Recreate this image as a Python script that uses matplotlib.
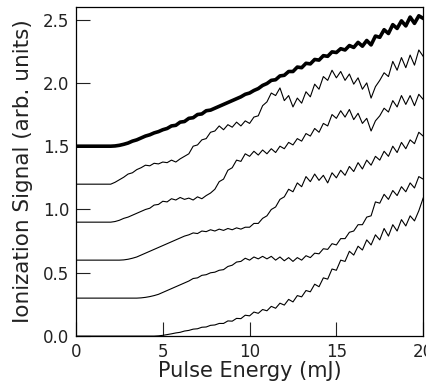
import numpy as np
import matplotlib
matplotlib.use("Agg")
import matplotlib.pyplot as plt

energy = [i * 0.25 for i in range(81)]

curve0 = [0.0] * 19 + [
    0.002, 0.006, 0.012, 0.018, 0.025, 0.03, 0.04, 0.045, 0.055, 0.058,
    0.07, 0.072, 0.085, 0.088, 0.10, 0.10, 0.12, 0.118, 0.14, 0.138,
    0.165, 0.16, 0.19, 0.18, 0.21, 0.20, 0.235, 0.22, 0.26, 0.245,
    0.29, 0.27, 0.32, 0.31, 0.36, 0.35, 0.41, 0.39, 0.46, 0.45,
    0.53, 0.52, 0.60, 0.59, 0.67, 0.64, 0.71, 0.68, 0.76, 0.72,
    0.80, 0.76, 0.85, 0.79, 0.88, 0.83, 0.92, 0.87, 0.95, 0.91,
    0.99, 1.09]

curve1 = [0.30] * 15 + [
    0.302, 0.306, 0.312, 0.32, 0.33, 0.345, 0.36, 0.375, 0.39, 0.405,
    0.42, 0.435, 0.455, 0.46, 0.48, 0.485, 0.50, 0.505, 0.52, 0.525,
    0.55, 0.56, 0.585, 0.59, 0.615, 0.60, 0.625, 0.61, 0.63, 0.61,
    0.63, 0.60, 0.625, 0.595, 0.62, 0.59, 0.62, 0.60, 0.635, 0.62,
    0.655, 0.65, 0.69, 0.685, 0.73, 0.72, 0.77, 0.77, 0.82, 0.83,
    0.88, 0.88, 0.94, 0.95, 1.06, 1.05, 1.12, 1.08, 1.15, 1.11,
    1.18, 1.14, 1.21, 1.17, 1.26, 1.24]

curve2 = [0.60] * 11 + [
    0.602, 0.607, 0.615, 0.625, 0.64, 0.655, 0.67, 0.685, 0.70, 0.715,
    0.73, 0.745, 0.76, 0.775, 0.79, 0.80, 0.815, 0.81, 0.83, 0.825,
    0.84, 0.83, 0.845, 0.835, 0.85, 0.84, 0.855, 0.845, 0.86, 0.86,
    0.89, 0.89, 0.93, 0.95, 1.00, 1.02, 1.08, 1.10, 1.16, 1.14,
    1.21, 1.18, 1.26, 1.22, 1.28, 1.23, 1.27, 1.21, 1.29, 1.25,
    1.31, 1.27, 1.34, 1.30, 1.37, 1.32, 1.39, 1.35, 1.42, 1.39,
    1.46, 1.42, 1.50, 1.45, 1.53, 1.48, 1.55, 1.52, 1.61, 1.58]

curve3 = [0.90] * 9 + [
    0.905, 0.915, 0.93, 0.94, 0.955, 0.97, 0.985, 1.00, 1.01, 1.035,
    1.04, 1.065, 1.06, 1.085, 1.075, 1.095, 1.08, 1.09, 1.075, 1.10,
    1.085, 1.11, 1.13, 1.16, 1.22, 1.24, 1.31, 1.33, 1.39, 1.38,
    1.44, 1.42, 1.46, 1.43, 1.47, 1.44, 1.48, 1.45, 1.50, 1.48,
    1.53, 1.51, 1.56, 1.54, 1.60, 1.58, 1.64, 1.61, 1.68, 1.66,
    1.75, 1.72, 1.78, 1.73, 1.79, 1.71, 1.76, 1.68, 1.72, 1.62,
    1.70, 1.74, 1.80, 1.77, 1.86, 1.81, 1.90, 1.83, 1.90, 1.82,
    1.91, 1.87]

curve4 = [1.20] * 9 + [
    1.215, 1.235, 1.255, 1.28, 1.29, 1.315, 1.33, 1.35, 1.345, 1.365,
    1.36, 1.375, 1.37, 1.39, 1.375, 1.40, 1.42, 1.44, 1.50, 1.51,
    1.55, 1.56, 1.61, 1.62, 1.66, 1.63, 1.67, 1.65, 1.69, 1.66,
    1.70, 1.68, 1.73, 1.74, 1.82, 1.85, 1.92, 1.90, 1.96, 1.86,
    1.90, 1.81, 1.88, 1.84, 1.93, 1.89, 1.99, 1.95, 2.05, 2.02,
    2.10, 2.04, 2.09, 2.02, 2.07, 1.99, 2.04, 1.95, 2.00, 1.88,
    1.97, 2.02, 2.08, 2.05, 2.17, 2.10, 2.20, 2.12, 2.22, 2.14,
    2.26, 2.21]

curve5 = [1.50] * 9 + [
    1.502, 1.507, 1.515, 1.525, 1.54, 1.55, 1.565, 1.58, 1.59, 1.605,
    1.615, 1.63, 1.64, 1.66, 1.665, 1.69, 1.695, 1.72, 1.725, 1.75,
    1.755, 1.78, 1.785, 1.80, 1.815, 1.83, 1.845, 1.86, 1.875, 1.89,
    1.91, 1.92, 1.94, 1.955, 1.98, 1.995, 2.02, 2.025, 2.055, 2.06,
    2.09, 2.09, 2.125, 2.12, 2.155, 2.15, 2.185, 2.18, 2.215, 2.21,
    2.245, 2.24, 2.27, 2.26, 2.295, 2.28, 2.32, 2.29, 2.335, 2.30,
    2.37, 2.36, 2.42, 2.39, 2.46, 2.43, 2.49, 2.45, 2.52, 2.47,
    2.53, 2.51]

thin_curves = [curve0, curve1, curve2, curve3, curve4]

x_ticks = [0, 5, 10, 15, 20]
y_ticks = [0.0, 0.5, 1.0, 1.5, 2.0, 2.5]
x_label = "Pulse Energy (mJ)"
y_label = "Ionization Signal (arb. units)"

plt.rcParams['font.family'] = ['DejaVu Sans']

fig = plt.figure(figsize=(4.27, 3.85), dpi=100)
ax = fig.add_axes([0.178, 0.127, 0.813, 0.855])

for c in thin_curves:
    ax.plot(energy, c, color='black', lw=0.8)
ax.plot(energy, curve5, color='black', lw=2.6)

ax.set_xlim(0, 20)
ax.set_ylim(0, 2.6)
ax.set_xticks(x_ticks)
ax.set_yticks(y_ticks)
ax.set_xticklabels([str(v) for v in x_ticks])
ax.set_yticklabels([f"{v:.1f}" for v in y_ticks])
ax.tick_params(direction='in', length=10, width=0.8, labelsize=12,
               top=False, right=False, pad=5, colors='#222222')
ax.set_xlabel(x_label, fontsize=15, color='#222222')
ax.xaxis.set_label_coords(0.5, -0.076)
ax.xaxis.label.set_va('top')
ax.set_ylabel(y_label, fontsize=15.5, color='#222222', labelpad=7)
for s in ax.spines.values():
    s.set_linewidth(0.9)

fig.savefig("out.png", dpi=100)
